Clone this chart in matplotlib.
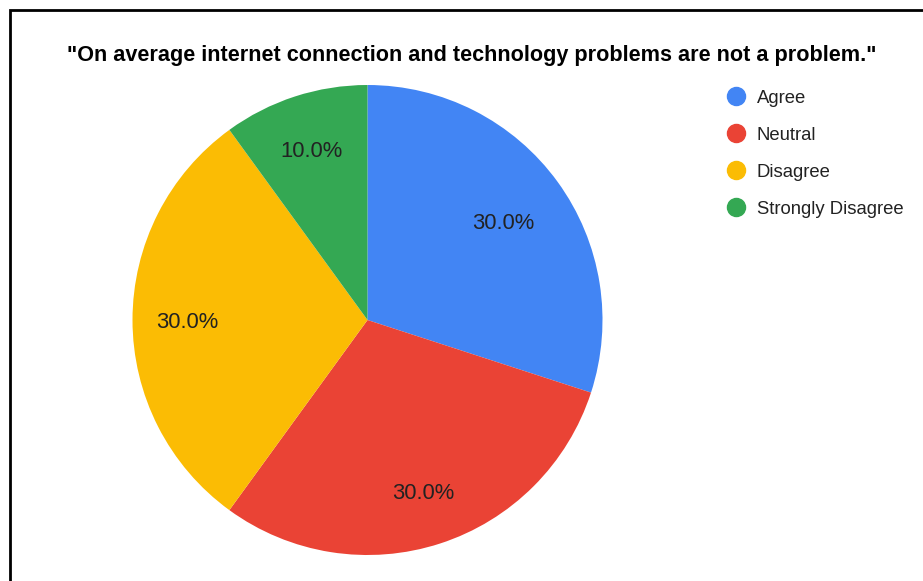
import matplotlib
matplotlib.use("Agg")
import matplotlib.pyplot as plt
import numpy as np
from matplotlib.patches import Rectangle
from matplotlib.lines import Line2D

plt.rcParams['font.family'] = ['Liberation Sans', 'DejaVu Sans']

title = '"On average internet connection and technology problems are not a problem."'
categories = ["Agree", "Neutral", "Disagree", "Strongly Disagree"]
values = [30.0, 30.0, 30.0, 10.0]
colors = ["#4285F4", "#EA4335", "#FBBC04", "#34A853"]
# radial position of each percentage label, as a fraction of the radius
label_radius = [0.715, 0.765, 0.765, 0.765]

W, H = 923, 581
fig = plt.figure(figsize=(W / 100, H / 100), dpi=100)
fig.patch.set_facecolor("white")

# frame around the chart (open on the right and bottom edges of the canvas)
fig.add_artist(Rectangle((10 / W, -0.05), 1.1, (H - 10) / H + 0.05,
                         transform=fig.transFigure, fill=False,
                         edgecolor="black", linewidth=2))

cx, cy, r = 367.5, 320, 235
ax = fig.add_axes([(cx - r) / W, (H - cy - r) / H, 2 * r / W, 2 * r / H])
wedges, texts, autotexts = ax.pie(
    values, colors=colors, startangle=90, counterclock=False,
    autopct="%.1f%%", pctdistance=0.75,
    wedgeprops=dict(linewidth=0), textprops=dict(fontsize=15.8, color="#222222"))
for w, t, d in zip(wedges, autotexts, label_radius):
    mid = np.deg2rad((w.theta1 + w.theta2) / 2)
    t.set_position((d * np.cos(mid), d * np.sin(mid)))
    t.set_verticalalignment("center_baseline")
ax.set_xlim(-1, 1)
ax.set_ylim(-1, 1)
ax.set_aspect("equal")

fig.text(472 / W, 1 - 55 / H, title, ha="center", va="center",
         fontsize=15.6, fontweight="bold", color="black")

handles = [Line2D([], [], marker="o", linestyle="none", markersize=13,
                  markerfacecolor=c, markeredgecolor=c) for c in colors]
fig.legend(handles, categories, loc="upper left",
           bbox_to_anchor=(718 / W, 1 - 80.5 / H), frameon=False,
           fontsize=13.3, handletextpad=0.6, labelspacing=1.08,
           handlelength=1.0, borderpad=0, labelcolor="#222222")

fig.savefig("out.png", dpi=100, facecolor="white")
